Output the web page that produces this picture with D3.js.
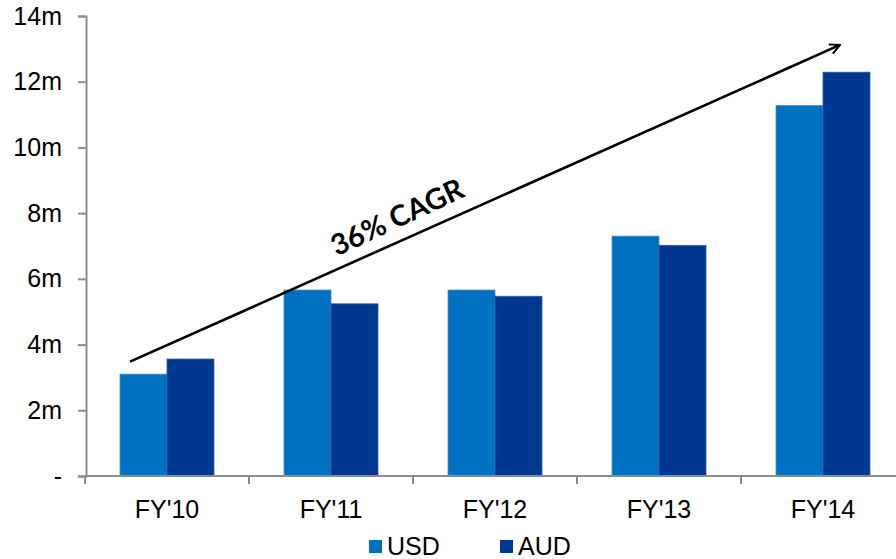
<!DOCTYPE html>
<html lang="en">
<head>
  <meta charset="UTF-8">
  <title>Revenue FY10-FY14</title>
  <script src="https://d3js.org/d3.v7.min.js"></script>
  <style>
    * { margin: 0; padding: 0; box-sizing: border-box; }
    body { background: #fff; font-family: Arial, "Liberation Sans", sans-serif; }
  </style>
</head>
<body>
  <div id="chart"></div>

  <script>
    // data
    const years = ["FY'10", "FY'11", "FY'12", "FY'13", "FY'14"];
    const series = ["USD", "AUD"];
    const usd = [3.10, 5.66, 5.66, 7.30, 11.28];
    const aud = [3.56, 5.24, 5.47, 7.02, 12.29];
    const yTicks = [0, 2, 4, 6, 8, 10, 12, 14];
    const cagrLabel = "36% CAGR";
    const cagrFrom = {year: "FY'10", value: 3.48};
    const cagrTo = {year: "FY'14", value: 13.12};

    const W = 896, H = 559;
    const colors = {USD: "#0070c0", AUD: "#00388f"};

    const data = years.map((yr, i) => ({year: yr, USD: usd[i], AUD: aud[i]}));

    const svg = d3.select("#chart").append("svg")
      .attr("width", W).attr("height", H);

    const x0 = d3.scaleBand()
      .domain(years)
      .range([85, 905])
      .paddingInner(0.427)
      .paddingOuter(0.2135);

    const x1 = d3.scaleBand()
      .domain(series)
      .range([0, x0.bandwidth()]);

    const xCat = d3.scaleBand().domain(years).range([85, 905]);

    const y = d3.scaleLinear().domain([0, 14]).range([476, 16]);

    // y axis
    const yAxis = svg.append("g")
      .attr("transform", "translate(86,0)")
      .call(d3.axisLeft(y)
        .tickValues(yTicks)
        .tickSize(8)
        .tickPadding(16)
        .tickFormat(d => d === 0 ? "-" : d + "m"));
    yAxis.select(".domain").attr("stroke", "#8c8c8c").attr("stroke-width", 2);
    yAxis.selectAll(".tick line").attr("stroke", "#8c8c8c").attr("stroke-width", 2);
    yAxis.selectAll(".tick text")
      .style("font-size", "25px")
      .style("font-family", "Arial, 'Liberation Sans', sans-serif")
      .attr("fill", "#000");

    // bars
    const groups = svg.append("g").selectAll("g")
      .data(data)
      .join("g")
      .attr("transform", d => `translate(${x0(d.year)},0)`);

    groups.selectAll("rect")
      .data(d => series.map(s => ({key: s, value: d[s]})))
      .join("rect")
      .attr("x", d => x1(d.key))
      .attr("y", d => y(d.value))
      .attr("width", x1.bandwidth())
      .attr("height", d => y(0) - y(d.value))
      .attr("fill", d => colors[d.key])
      .attr("stroke", d => d.key === "USD" ? "#3d8fd1" : "#2f5aa6")
      .attr("stroke-width", 0.8);

    // x axis, ticks between categories (Excel style)
    const xAxis = svg.append("g");
    xAxis.append("line")
      .attr("x1", 85).attr("x2", W)
      .attr("y1", y(0)).attr("y2", y(0))
      .attr("stroke", "#8c8c8c").attr("stroke-width", 2);
    xAxis.selectAll(".xtick")
      .data(years)
      .join("line")
      .attr("class", "xtick")
      .attr("x1", d => xCat(d)).attr("x2", d => xCat(d))
      .attr("y1", y(0)).attr("y2", y(0) + 8)
      .attr("stroke", "#8c8c8c").attr("stroke-width", 2);
    xAxis.selectAll(".xlabel")
      .data(years)
      .join("text")
      .attr("class", "xlabel")
      .attr("x", d => x0(d) + x0.bandwidth() / 2)
      .attr("y", 518)
      .attr("text-anchor", "middle")
      .style("font-size", "25px")
      .text(d => d);

    // CAGR arrow
    svg.append("defs").append("marker")
      .attr("id", "arrow")
      .attr("viewBox", "0 0 12 12")
      .attr("refX", 11).attr("refY", 6)
      .attr("markerWidth", 12).attr("markerHeight", 12)
      .attr("markerUnits", "userSpaceOnUse")
      .attr("orient", "auto")
      .append("path")
      .attr("d", "M1,1 L11,6 L1,11")
      .attr("fill", "none")
      .attr("stroke", "#000")
      .attr("stroke-width", 2);

    const ax1 = x0(cagrFrom.year) + x1("USD") + 10, ay1 = y(cagrFrom.value);
    const ax2 = x0(cagrTo.year) + x1("AUD") + 17, ay2 = y(cagrTo.value);
    svg.append("line")
      .attr("x1", ax1).attr("y1", ay1)
      .attr("x2", ax2).attr("y2", ay2)
      .attr("stroke", "#000")
      .attr("stroke-width", 2.6)
      .attr("marker-end", "url(#arrow)");

    const angle = Math.atan2(ay2 - ay1, ax2 - ax1) * 180 / Math.PI;
    const t = 0.39;
    const tx = ax1 + (ax2 - ax1) * t, ty = ay1 + (ay2 - ay1) * t;
    svg.append("text")
      .attr("transform", `translate(${tx},${ty}) rotate(${angle - 1}) translate(0,-13)`)
      .attr("text-anchor", "middle")
      .style("font-family", "Lato, 'Open Sans', sans-serif")
      .style("font-weight", "bold")
      .style("font-size", "29px")
      .text(cagrLabel);

    // legend
    const legend = svg.append("g");
    const legendX = [369, 500];
    series.forEach((s, i) => {
      legend.append("rect")
        .attr("x", legendX[i]).attr("y", 540)
        .attr("width", 13).attr("height", 13)
        .attr("fill", colors[s]);
      legend.append("text")
        .attr("x", legendX[i] + 18).attr("y", 555)
        .style("font-size", "25px")
        .text(s);
    });
  </script>
</body>
</html>
